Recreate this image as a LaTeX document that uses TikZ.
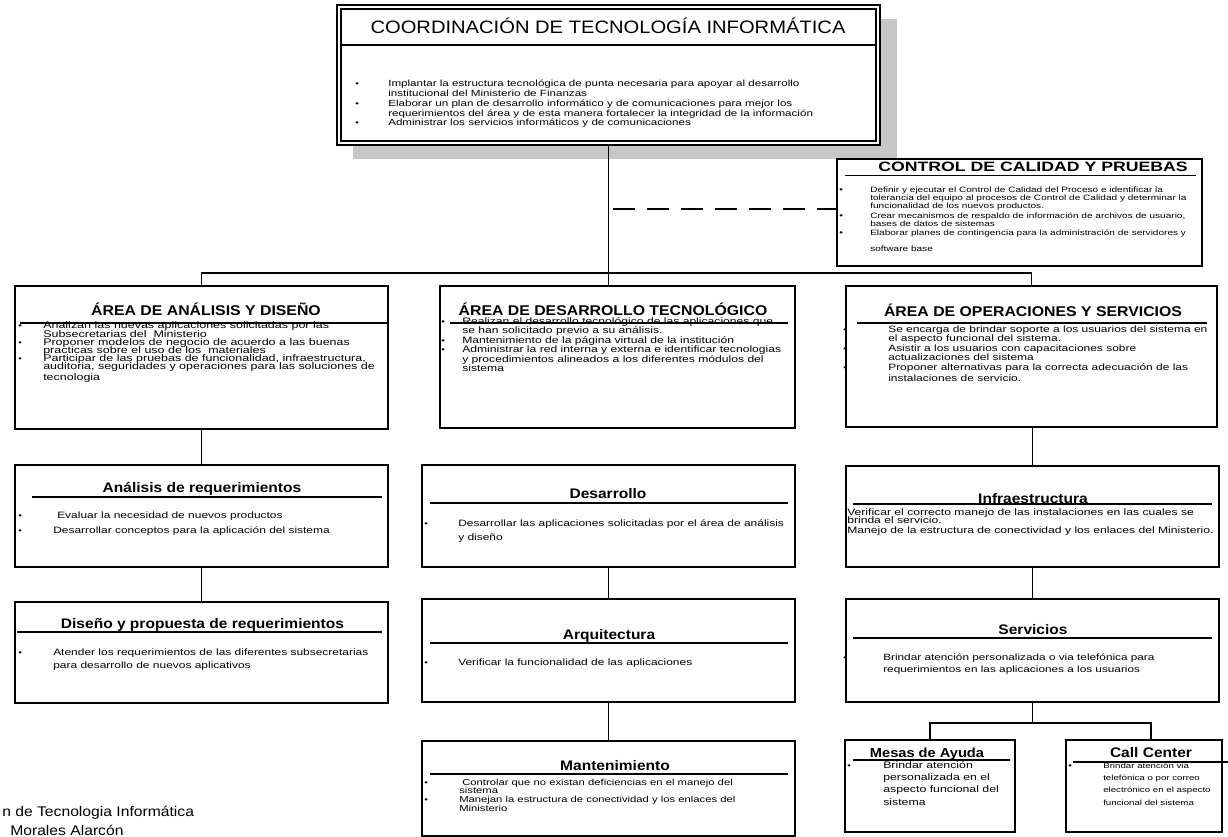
\documentclass[tikz,border=0pt]{standalone}
\usepackage{fontspec}
\setmainfont{Liberation Sans}
\newfontfamily\headf{Liberation Sans}[FakeStretch=1.12]
\newfontfamily\headw{Liberation Sans}[FakeStretch=1.3]
\newfontfamily\bodyf{Liberation Sans}[FakeStretch=1.3]
\usetikzlibrary{fit}

\definecolor{shadowgray}{HTML}{C6C6C6}

\newcounter{tln}
\newcommand\bsz{6.9}
\newcommand\bulmark{{\bodyf\fontsize{6}{6}\selectfont\textbullet}}
% plain text line: x, baseline y, text
\newcommand\txtline[3]{\stepcounter{tln}\node[txt] (t\arabic{tln}) at (#1,#2) {#3};}
% bulleted line: bullet x, text x, baseline y, text
\newcommand\bulline[4]{\stepcounter{tln}\node[txt] (t\arabic{tln}) at (#2,#3) {#4};%
  \stepcounter{tln}\node[txt] (t\arabic{tln}) at (#1,#3) {\bulmark};}

\tikzset{
  box/.style={draw=black, line width=1.1pt, fill=white, inner sep=0pt},
  link/.style={draw=black, line width=1.1pt},
  rule/.style={draw=black, line width=0.8pt},
  txt/.style={inner sep=0pt, anchor=base west, font=\bodyf\fontsize{\bsz}{\bsz}\selectfont},
  ttl/.style={inner sep=0pt, anchor=base, font=\headf\bfseries\fontsize{10.4}{12}\selectfont},
}

\begin{document}
\begin{tikzpicture}[x=0.75pt, y=-0.75pt]
\useasboundingbox (0,0) rectangle (1228,837);
\clip (0,0) rectangle (1228,837);

% ---------- head office ----------
\fill[shadowgray] (353,19) rectangle (897,159);
\node[box, fit={(337,5) (880,145)}] (coord) {};
\draw[line width=0.8pt] (341,9) rectangle (876,141);
\node[inner sep=0pt, anchor=base, font=\headf\fontsize{13.5}{15}\selectfont] (coordttl) at (608,34) {COORDINACIÓN DE TECNOLOGÍA INFORMÁTICA};
\draw[rule] (341,45) -- (876,45);
\renewcommand\bsz{6.7}
\bulline{355}{388}{87}{Implantar la estructura tecnológica de punta necesaria para apoyar al desarrollo}
\txtline{388}{96.7}{institucional del Ministerio de Finanzas}
\bulline{355}{388}{106.4}{Elaborar un plan de desarrollo informático y de comunicaciones para mejor los}
\txtline{388}{116.1}{requerimientos del área y de esta manera fortalecer la integridad de la información}
\bulline{355}{388}{125.8}{Administrar los servicios informáticos y de comunicaciones}

% ---------- quality control (staff unit) ----------
\node[box, fit={(837,159) (1202,266)}] (ctl) {};
\node[ttl, font=\headw\bfseries\fontsize{10.2}{12}\selectfont] (ctlttl) at (1033,172) {CONTROL DE CALIDAD Y PRUEBAS};
\draw[rule] (845,175.5) -- (1196,175.5);
\renewcommand\bsz{5.8}
\bulline{839}{870}{193}{Definir y ejecutar el Control de Calidad del Proceso e identificar la}
\txtline{870}{201}{tolerancia del equipo al procesos de Control de Calidad y determinar la}
\txtline{870}{209}{funcionalidad de los nuevos productos.}
\bulline{839}{870}{219}{Crear mecanismos de respaldo de información de archivos de usuario,}
\txtline{870}{227}{bases de datos de sistemas}
\bulline{839}{870}{236}{Elaborar planes de contingencia para la administración de servidores y}
\txtline{870}{252}{software base}

% ---------- areas ----------
\node[box, fit={(15,286) (388,429)}] (aad) {};
\node[ttl, font=\headf\bfseries\fontsize{10.6}{12}\selectfont] (aadttl) at (206,316) {ÁREA DE ANÁLISIS Y DISEÑO};
\draw[rule] (20,323) -- (388,323);
\renewcommand\bsz{7.2}
\bulline{18}{43}{329}{Analizan las nuevas aplicaciones solicitadas por las}
\txtline{43}{337.2}{Subsecretarias del \ Ministerio}
\bulline{18}{43}{345.4}{Proponer modelos de negocio de acuerdo a las buenas}
\txtline{43}{353.6}{practicas sobre el uso de los \ materiales}
\bulline{18}{43}{361.8}{Participar de las pruebas de funcionalidad, infraestructura,}
\txtline{43}{370}{auditoria, seguridades y operaciones para las soluciones de}
\txtline{43}{381}{tecnologia}

\node[box, fit={(440,286) (795,428)}] (adt) {};
\node[ttl, font=\headf\bfseries\fontsize{10.6}{12}\selectfont] (adtttl) at (613,316) {ÁREA DE DESARROLLO TECNOLÓGICO};
\draw[rule] (450,323) -- (788,323);
\renewcommand\bsz{7.0}
\bulline{441}{462}{325}{Realizan el desarrollo tecnológico de las aplicaciones que}
\txtline{462}{334}{se han solicitado previo a su análisis.}
\bulline{441}{462}{344}{Mantenimiento de la página virtual de la institución}
\bulline{441}{462}{353}{Administrar la red interna y externa e identificar tecnologias}
\txtline{462}{362.5}{y procedimientos alineados a los diferentes módulos del}
\txtline{462}{372}{sistema}

\node[box, fit={(846,286) (1217,427)}] (aos) {};
\node[ttl, font=\headf\bfseries\fontsize{10.6}{12}\selectfont] (aosttl) at (1033,317) {ÁREA DE OPERACIONES Y SERVICIOS};
\draw[rule] (857,323) -- (1207,323);
\renewcommand\bsz{6.9}
\bulline{843}{888}{333}{Se encarga de brindar soporte a los usuarios del sistema en}
\txtline{888}{341.5}{el aspecto funcional del sistema.}
\bulline{843}{888}{352}{Asistir a los usuarios con capacitaciones sobre}
\txtline{888}{360.5}{actualizaciones del sistema}
\bulline{843}{888}{371}{Proponer alternativas para la correcta adecuación de las}
\txtline{888}{381.5}{instalaciones de servicio.}

% ---------- units, left column ----------
\renewcommand\bsz{6.9}
\node[box, fit={(15,465) (388,567)}] (anreq) {};
\node[ttl] (anreqttl) at (202,493) {Análisis de requerimientos};
\draw[rule] (32,497) -- (382,497);
\bulline{18}{57}{519}{Evaluar la necesidad de nuevos productos}
\bulline{18}{53}{534}{Desarrollar conceptos para la aplicación del sistema}

\node[box, fit={(15,602) (388,703)}] (dise) {};
\node[ttl] (disettl) at (202.5,628) {Diseño y propuesta de requerimientos};
\draw[rule] (17,632) -- (382,632);
\bulline{18}{53}{655}{Atender los requerimientos de las diferentes subsecretarias}
\txtline{53}{668}{para desarrollo de nuevos aplicativos}

% ---------- units, middle column ----------
\node[box, fit={(422,465) (795,567)}] (desa) {};
\node[ttl] (desattl) at (608,499) {Desarrollo};
\draw[rule] (430,503) -- (788,503);
\bulline{424}{458}{527}{Desarrollar las aplicaciones solicitadas por el área de análisis}
\txtline{458}{541}{y diseño}

\node[box, fit={(422,599) (795,702)}] (arq) {};
\node[ttl] (arqttl) at (609,639) {Arquitectura};
\draw[rule] (430,643) -- (788,643);
\bulline{424}{458}{665}{Verificar la funcionalidad de las aplicaciones}

\node[box, fit={(422,741) (795,836)}] (mant) {};
\node[ttl] (mantttl) at (615,770) {Mantenimiento};
\draw[rule] (430,774) -- (788,774);
\renewcommand\bsz{6.5}
\bulline{424}{462}{785}{Controlar que no existan deficiencias en el manejo del}
\txtline{459}{793}{sistema}
\bulline{424}{459}{802}{Manejan la estructura de conectividad y los enlaces del}
\txtline{459}{811}{Ministerio}

% ---------- units, right column ----------
\renewcommand\bsz{7.0}
\node[box, fit={(846,466) (1219,567)}] (infra) {};
\node[ttl] (infrattl) at (1033,504) {Infraestructura};
\draw[rule] (853,504) -- (1212,504);
\txtline{847}{516}{Verificar el correcto manejo de las instalaciones en las cuales se}
\txtline{847}{523.5}{brinda el servicio.}
\txtline{847}{534}{Manejo de la estructura de conectividad y los enlaces del Ministerio.}

\renewcommand\bsz{6.8}
\node[box, fit={(846,599) (1219,702)}] (serv) {};
\node[ttl] (servttl) at (1033,634) {Servicios};
\draw[rule] (853,638) -- (1212,638);
\bulline{843}{883}{660}{Brindar atención personalizada o via telefónica para}
\txtline{883}{672}{requerimientos en las aplicaciones a los usuarios}

\node[box, fit={(845,740) (1015,832)}] (mesa) {};
\node[ttl, font=\headf\bfseries\fontsize{9.8}{11}\selectfont] (mesattl) at (927,757) {Mesas de Ayuda};
\draw[rule] (853,760) -- (1010,760);
\renewcommand\bsz{7.1}
\bulline{847}{883}{768.5}{Brindar atención}
\txtline{883}{780.5}{personalizada en el}
\txtline{883}{792.5}{aspecto funcional del}
\txtline{883}{805.5}{sistema}

\node[box, fit={(1066,740) (1222,832)}] (call) {};
\node[ttl] (callttl) at (1151,757) {Call Center};
\draw[rule] (1073,762) -- (1228,762);
\renewcommand\bsz{5.6}
\bulline{1068}{1103}{768.5}{Brindar atención via}
\txtline{1103}{780}{telefónica o por correo}
\txtline{1103}{792}{electrónico en el aspecto}
\txtline{1103}{805.5}{funcional del sistema}

% ---------- connectors ----------
\coordinate (bus) at (608.5,273);
\draw[link] (coord.south) -- (coord.south |- adt.north);
\draw[link] (aad.north) |- (bus) -| (aos.north);
\coordinate (dj) at (613,209);
\draw[link, dash pattern=on 16.5pt off 9pt] (dj) -- (dj -| ctl.west);
\draw[link] (aad.south) -- (anreq.north);
\draw[link] (anreq.south) -- (dise.north);
\draw[link] (desa.south) -- (arq.north);
\draw[link] (arq.south) -- (mant.north);
\draw[link] (infra.north |- aos.south) -- (infra.north);
\draw[link] (infra.south) -- (serv.north);
\coordinate (split) at (1032.5,723);
\coordinate (cj) at (1151,740);
\draw[link] (serv.south) -- (split);
\draw[link] (mesa.north) |- (split) -| (cj);

% ---------- footer ----------
\node[inner sep=0pt, anchor=base west, font=\headf\fontsize{10.5}{12}\selectfont] (foot1) at (2,816) {n de Tecnologia Informática};
\node[inner sep=0pt, anchor=base west, font=\headf\fontsize{10.5}{12}\selectfont] (foot2) at (10,835) {Morales Alarcón};
\end{tikzpicture}
\end{document}
